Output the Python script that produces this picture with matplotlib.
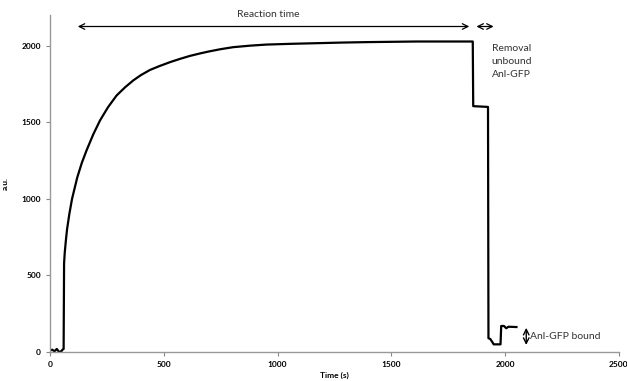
import matplotlib
matplotlib.use('Agg')
import matplotlib.pyplot as plt

plt.rcParams['font.family'] = ['Lato', 'DejaVu Sans']

# trace: time (s) and signal (a.u.)
time = [0, 10, 20, 30, 40, 50, 55, 60, 62, 65, 70, 75, 85, 97, 120, 140, 161,
        190, 220, 255, 293, 330, 366, 400, 439, 480, 527, 570, 615, 659, 695,
        750, 805, 880, 951, 1060, 1171, 1280, 1391, 1500, 1610, 1700, 1858,
        1860, 1925, 1927, 1935, 1946, 1950, 1980, 1983, 1995, 2005, 2015, 2050]
signal = [10, 15, 5, 20, 0, 5, 15, 20, 580, 650, 730, 800, 900, 1000, 1140,
          1235, 1317, 1420, 1512, 1598, 1675, 1728, 1773, 1808, 1841, 1866,
          1892, 1913, 1933, 1949, 1961, 1977, 1990, 2000, 2007, 2012, 2016,
          2020, 2023, 2025, 2027, 2027, 2027, 1605, 1600, 90, 85, 60, 50, 50,
          170, 170, 155, 165, 163]

xticks = [0, 500, 1000, 1500, 2000, 2500]
yticks = [0, 500, 1000, 1500, 2000]

fig = plt.figure(figsize=(6.27, 3.81), dpi=100)
ax = fig.add_axes([0.0797, 0.0761, 0.9073, 0.8845])
ax.plot(time, signal, color='black', lw=1.6)

ax.set_xlim(0, 2500)
ax.set_ylim(0, 2200)
ax.set_xticks(xticks)
ax.set_yticks(yticks)
for lab in ax.get_xticklabels() + ax.get_yticklabels():
    lab.set_fontweight('bold')
ax.tick_params(labelsize=6, length=3, color='#888888', width=0.8)
for s in ['top', 'right']:
    ax.spines[s].set_visible(False)
for s in ['left', 'bottom']:
    ax.spines[s].set_color('#999999')
    ax.spines[s].set_linewidth(1.0)
ax.set_xlabel('Time (s)', fontsize=6, fontweight='bold', labelpad=3)
ax.set_ylabel('a.u.', fontsize=6, fontweight='bold', labelpad=9)

# annotations
arrow = dict(arrowstyle='<->', color='black', lw=0.9)
ax.annotate('', xy=(110, 2125), xytext=(1855, 2125), arrowprops=arrow, annotation_clip=False)
ax.annotate('', xy=(1862, 2125), xytext=(1962, 2125), arrowprops=arrow, annotation_clip=False)
ax.text(960, 2205, 'Reaction time', ha='center', va='center', fontsize=7.5, color='#333333', clip_on=False)
ax.text(2030, 1895, 'Removal\nunbound\nAnl-GFP', ha='center', va='center', fontsize=7.5,
        color='#333333', linespacing=1.6, multialignment='center')
ax.annotate('', xy=(2093, 176), xytext=(2093, 28), arrowprops=dict(arrowstyle='<->', color='black', lw=1.0))
ax.text(2110, 98, 'Anl-GFP bound', ha='left', va='center', fontsize=7.5, color='#333333')

fig.savefig('out.png', dpi=100)
